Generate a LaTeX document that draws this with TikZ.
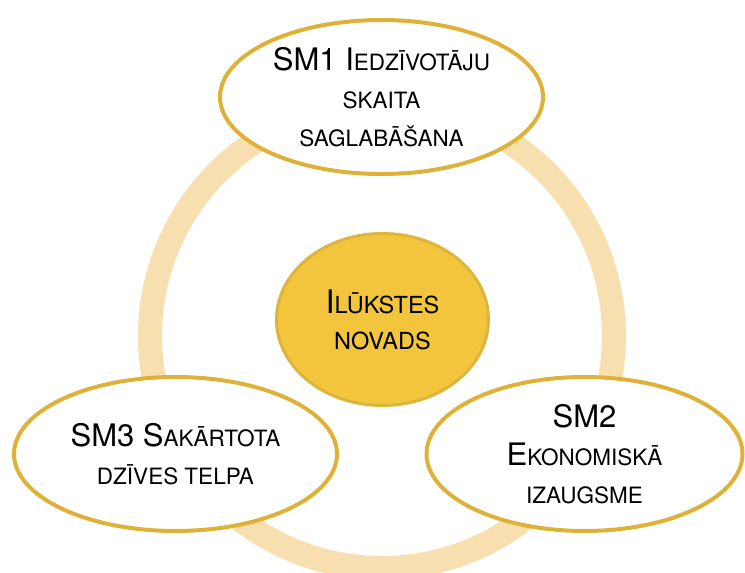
\documentclass[tikz,border=0pt]{standalone}
\usepackage{fontspec}
\setmainfont{TeX Gyre Heros}
\usetikzlibrary{shapes.geometric}
\definecolor{ringc}{RGB}{247,223,175}
\definecolor{goldline}{RGB}{222,178,56}
\definecolor{goldfill}{RGB}{242,197,61}
\definecolor{goldedge}{RGB}{221,180,60}
\newcommand\BigCap[1]{{\fontsize{31}{38}\selectfont #1}}
\newcommand\HubCap[1]{{\fontsize{32.5}{36}\selectfont #1}}
\tikzset{
  goal/.style={ellipse, draw=goldline, line width=4pt, fill=white, inner sep=0pt,
    align=center, font=\fontsize{22.5}{38}\selectfont, text=black},
  hub/.style={ellipse, draw=goldedge, line width=3pt, fill=goldfill, inner sep=0pt,
    align=center, font=\fontsize{23.5}{36}\selectfont, text=black}
}
\begin{document}
\begin{tikzpicture}[x=1pt,y=-1pt]
\useasboundingbox (0,0) rectangle (745,573);
\coordinate (rc) at (382,336);
\draw[ringc, line width=24pt] (rc) circle[radius=232];
\node[goal, minimum width=323pt, minimum height=154pt] (sm1) at (381.5,97)
  {\BigCap{SM1 I}EDZĪVOTĀJU\\SKAITA\\SAGLABĀŠANA};
\node[goal, minimum width=323pt, minimum height=154pt] (sm3) at (175.5,454)
  {\BigCap{SM3 S}AKĀRTOTA\\DZĪVES TELPA};
\node[goal, minimum width=316pt, minimum height=154pt] (sm2) at (584.5,454)
  {\BigCap{SM2}\\\BigCap{E}KONOMISKĀ\\IZAUGSME};
\node[hub, minimum width=212pt, minimum height=172pt] (hub) at (382.5,319.5)
  {\HubCap{I}LŪKSTES\\NOVADS};
\end{tikzpicture}
\end{document}
